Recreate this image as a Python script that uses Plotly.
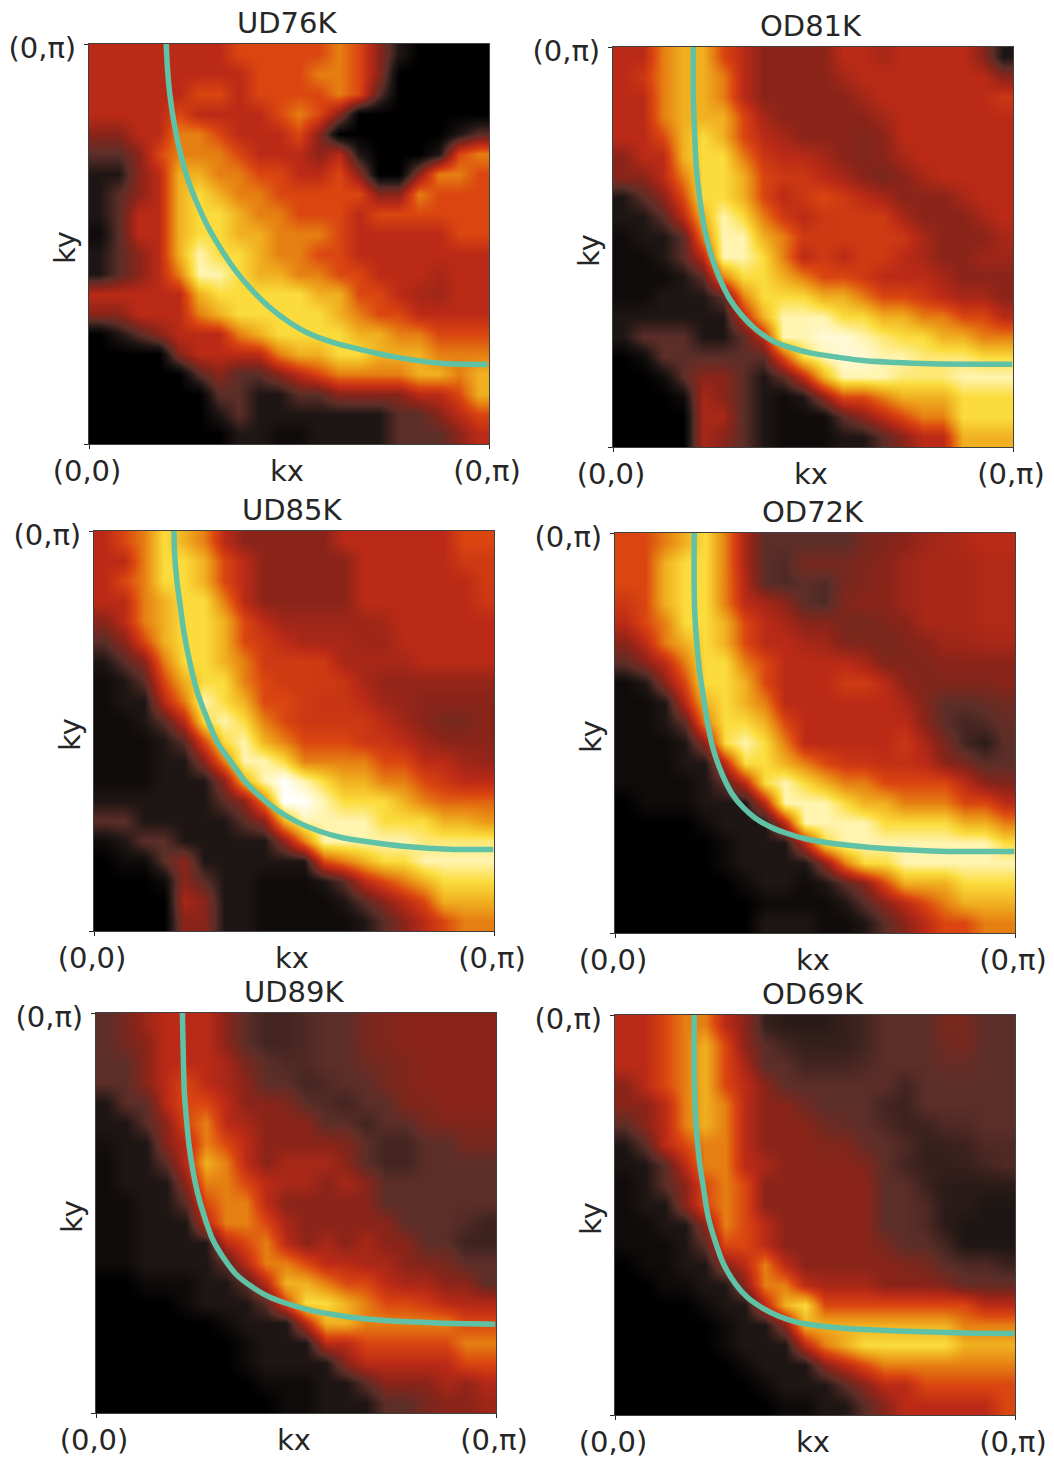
import plotly.graph_objects as go

W, H = 1054, 1459
PANEL = 400

titles = ["UD76K", "OD81K", "UD85K", "OD72K", "UD89K", "OD69K"]
x_tick_labels = ["(0,0)", "(0,π)"]
y_tick_labels = ["", "(0,π)"]
x_label = "kx"
y_label = "ky"
origins = [(89, 44), (613, 47), (94, 531), (615, 533), (96, 1013), (615, 1015)]

ud76 = [
[4,4,4,4,4,4,4,5,5,5,5,5,6,5,3,1,0,0,0,0],
[4,4,4,4,4,4,4,4,5,5,5,6,6,5,3,0,0,0,0,0],
[4,4,4,4,4,5,5,4,5,5,5,5,6,5,2,0,0,0,0,0],
[4,4,4,4,5,4,4,4,4,5,6,5,3,0,0,0,0,0,0,0],
[3,3,4,4,6,6,5,4,4,4,5,3,0,0,0,0,0,0,1,2],
[2,2,3,5,6,6,6,5,4,4,4,3,4,1,0,0,0,1,5,6],
[1,1,3,4,7,7,6,6,5,5,4,4,5,3,0,0,3,6,6,5],
[1,2,3,4,7,8,7,6,6,5,5,5,5,5,3,3,6,5,5,5],
[1,2,4,4,7,8,8,7,6,6,5,5,5,4,5,5,5,5,5,5],
[0.5,2,4,4,7,8,8,7,7,6,6,6,5,4,4,4,4,4,5,5],
[1,2,3,4,7,9,8,8,7,6,6,5,5,4,4,4,4,4,4,4],
[1,2,3,4,6,9,9,8,7,7,6,6,5,5,4,4,4,3.6,4,4],
[4,4,4,4,4,7,8,8,8,8,8,7,7,5,5,4,3.6,3.4,4,4],
[3,3,4,4,4,6,7,8,8,8,8,8,7,6,5,5,4,4,4,4],
[0,1,2,3,4,4,4,6,7,8,8,8,8,7,7,6,6,5,5,5],
[0,0,0,0,3,4,4,4,4,6,7,7,8,8,7,7,7,6,6,6],
[0,0,0,0,0,2,3,2,2,3,4,5,6,6,6,6,7,7,6,7],
[0,0,0,0,0,0,2,2,1,1,2,2,3,3,3,3,4,4,5,7],
[0,0,0,0,0,0,1,2,1,1,1,1,1,1,1,2,2,3,4,5],
[0,0,0,0,0,0,0,1,1,0.5,0.5,1,1,1,1,2,2,2,3,4],
]
od81 = [
[4,4,6,7,7,5,4,3,3,3,3,4,4,3.6,4,4,4,4,3,1],
[4,4.5,6,7,7,6,4,3,3,3,3,3.5,4,4,4,4,4,4,4,3],
[4,4,6,7,7,6,4,3,3,3,3,3,3.5,4,4,4,4,4,4,4.5],
[4,4,6,7,7,7,5,3.6,3,3,3,3,3,3.5,4,4,4,4,4,4],
[4,4,5,7,8,7,5,4,3.6,3,3,3,2.8,3,4,4,4,4,4,4],
[3,4,4,7,8,8,6,4.5,4,4,3.6,3,2.8,3,3.6,4,4,4,4,4],
[3,3,4,6,8,8,7,5,4.5,4.5,4,3.6,3,2.6,3,3.6,4,4,4,4],
[1,2,3,5,8,8,7,5,4,4.5,5,4.6,4,3.6,3,3,3,3.6,4,4],
[1,1,2,4,7,9,8,6,4.6,4,4.5,4.6,4.6,4.6,3.6,3,3,3,3.6,4],
[0.5,1,1,2,6,9,9,7,6,4.6,4.6,4.6,4.6,4.6,4.5,3.6,3,3,3,3.6],
[0.5,0.5,1,2,4,9,9,8,6,4,4.6,4,4.6,4.6,4,3.6,3,3,3.4,3.4],
[0.5,0.5,0.5,1,2,6,8,8,7,6,5,5,4.6,4,4,4,3.6,3,3,3],
[0.5,0.5,1,1,1,2,6,8,8,8,7,7,6,5,5,4.6,4,3.6,3.6,3],
[1,1,1,1,1,1,4,7,9,9,9,8,8,7,7,6,6,5,5,4],
[1,2,2,2,1,1,2,4,9,9,9.5,9.5,9,8.5,8,8,7,7,6,6],
[0,0.5,2,2,2,2,2,2,5,8,9,9.5,9.5,9,9,8.5,8.5,8.5,8,8],
[0,0,0.5,2,3,3,2,1,2,4,7,9,9,9,8.5,8.5,8.5,9,9,9],
[0,0,0,0.5,3.6,3,2,1,0.5,1,3,5,5,6,7,7,7,8,8,8],
[0,0,0,0,3.6,3.6,2,1,0.5,0.5,0.5,2,3,4,5,6,6,8,8,8],
[0,0,0,0,3.6,3,2,1,0.5,0.5,0.5,1,1,2,3,4,4,7,7,7],
]
ud85 = [
[4,5,6,8,7,6,4,3,3,3,3,3,4,4,4,4,4,4,5,5],
[4,4,6,8,8,7,5,4,3,3,3,3,3,4,4,4,4,4,4.6,4.6],
[4,5,6,8,8,7,5,4,3,3,3,3,3,4,4,4,4,4,4,4.6],
[4,4,6,7,8,8,6,4,3,3,3,3,3,4,4,4,4,4,4,4.5],
[3,4,6,7,8,8,7,5,4,3.4,3.4,3.4,3.4,3.4,3.6,4,4,4,4,4],
[2,3,5,7,8,8,7,5,4.6,4,3.6,3.6,3.6,3.4,3.4,4,4,4,4,4],
[1,2,3,6,8,8,7,6,4.6,4.6,4.6,4.5,3.6,3.6,3.6,3.6,4,4,4,4],
[0.5,1,2,5,7,8,8,6,5,4.6,4.6,4.6,4.4,3.6,3.2,3.2,3.2,3.2,3.2,3.2],
[0.5,1,1,4,6,9,8,7,5,5,4.6,4.4,4.4,4,3.4,3.2,3,3,3,3],
[0.5,0.5,1,2,4,8,9,8,6,5,4.5,4.5,4.5,4.5,4,3.4,3,2.6,2.6,3],
[0.5,0.5,0.5,1,2,5,8,9,7,6,5,5,5,4.5,4.4,4,3.4,3,3,3],
[0.5,0.5,0.5,1,1,3,6,9,9,8,6,6,6,6,5,5,4,4,3.4,3.2],
[0.5,0.5,0.5,1,1,1,3,7,9,10,9,8,7,7,6,6,5,4.5,4,4],
[1,1,1,1,1,1,2,3,6,10,10,9,8,8,8,7,6,5.5,5.5,5.5],
[2,2,1,1,1,1,1,2,3,7,9,9,9,9,8,8,8,7,7,6.5],
[0.5,1,2,2,1,1,1,1,1,3,6,9,9,9,9,9,8.5,8.5,8.5,8.5],
[0,0.5,0.5,2,3,1,1,1,1,1,1,5,6,7,8,8,9,9,9,9],
[0,0,0,0.5,3,2,1,1,0.5,0.5,0.5,1,2,4,5,6,7,8,8,8],
[0,0,0,0,3.6,3,1,1,0.5,0.5,0.5,0.5,1,2,3,4,5,7,7,7],
[0,0,0,0,3,3,1,1,0.5,0.5,0.5,0.5,0.5,1,2,3,4,5,6,6],
]
od72 = [
[5,5,6,7,8,6,3.6,2,2,2,2,2,2.6,2.8,3,3.4,3.6,3.8,4,4],
[5,5,7,8,8,6,3.6,2,1.8,2.6,2.6,2.6,2.8,3,3.4,3.6,3.6,3.6,3.8,3.8],
[5,5,7,8,8,6,3.8,2,1.8,2,1.8,2.6,2.8,3,3.4,3.6,3.6,3.6,3.8,3.8],
[4.5,5,7,8,8,6,4,3.6,3,2,1.8,2.8,3,3,3.4,3.6,3.6,3.6,3.8,3.8],
[4,5,6,8,8,7,5,4,3.6,3,3,2.6,2.6,2.8,3,3.6,3.6,3.6,3.8,3.8],
[3,4,6,7,8,7,5,4,4,3.6,3.4,2.8,2.8,2.6,2.8,3,3.4,3.4,3.6,3.6],
[2,3,4,6,8,8,6,5,4,4,4,4,3.6,2.8,2.8,2.8,3,3,3,3],
[0.5,1,3,5,8,8,7,5,4,4,4,4.6,4.6,4,3,2.8,2.8,2.8,2.8,3],
[0.5,0.5,1,4,7,8,7,6,4,4,4,4,4,4,3.6,2.8,2,2,2.2,2.4],
[0.5,0.5,1,2,6,8,8,7,5,4,4,4,4,4,4,3,2,1.6,1.8,2.2],
[0.5,0.5,0.5,1,3,8,9,8,6,4,4,4,4,4,4.5,3.6,2.6,1.6,1.2,2],
[0.5,0.5,0.5,1,1,4,8,8,7,6,5,4.5,4.4,4.2,4.2,4,3,2.6,2,2],
[0.5,0.5,0.5,0.5,1,2,4,8,9,8,7,6,6,5,5,5,5,4,3,2.8],
[0,0.5,0.5,0.5,1,1,1,4,9,9,9,8,7,7,6,6,6,5,5,4],
[0,0,0,0,0.5,1,1,1,4,9,9,9,9,8,8,8,8,7,7,6],
[0,0,0,0,0,0.5,1,1,1,4,8,9,9,9,9,9,9,9,9,8],
[0,0,0,0,0,0.5,1,1,1,1,3,6,8,8,9,9,9,9,9,9],
[0,0,0,0,0,0,0.5,1,1,0.5,1,2,3,5,7,7,7,8,8,8],
[0,0,0,0,0,0,0,0.5,0.5,0.5,0.5,1,2,3,4,5,6,7,7,7],
[0,0,0,0,0,0,0,1,1,1,0.5,0.5,1,2,3,4,5,5,6,6],
]
ud89 = [
[2,2.6,3.4,4,4,4,3,2,1.6,1.6,1.8,2,2,2.6,2.8,3,3,3,3,3],
[2,2.6,3,4,4,4,3,2,1.6,1.6,1.8,2,2,2.6,2.8,3,3,3,3,3],
[2,2,3,4,4,4,3.6,2.6,2,1.8,1.8,2,2,2.4,2.6,2.8,3,3,3,3],
[2,2,3,4,5,4,3.6,3,2,2,1.6,1.8,2,2,2.6,2.8,3,3,3,3],
[1,2,2,4,5,5,4,3,3,2.8,2,1.8,1.6,2,2,2.8,2.8,3,3,3],
[1,1,2,3,5,6,4,3.6,3,3,3,2,2,1.6,2,2,2.6,2.8,2.8,2.8],
[0.7,1,1,3,4,6,5,4,3,3,3,3,2.8,2,1.6,1.6,2,2,2.6,2.6],
[0.5,1,1,2,4,7,6,4,3,3.6,3.6,3.6,3,2,1.6,1.6,2,2,2,2],
[0.5,1,1,1,3,6,6,5,4,3.6,3.6,3,3.6,3,2,2,2,2,2,2],
[0.5,0.5,1,1,2,5,6,6,4,3,3,3,3,3,2,2,2,2,2,2],
[0.5,0.5,1,1,1,4,6,6,5,3.6,3,3,3,3,3,2,2,2,1.8,1.5],
[0.5,0.5,1,1,1,1,4,5,6,4,3,3.6,3,3.6,3,3,2,2,1.5,1.5],
[0.5,0.5,1,1,1,1,2,4,6,6,5,4,4,3.6,3.6,3,2.8,2.6,2,2],
[0,0,0.5,0.5,0.5,1,1,2,4,7,7,6,5,5,4,3.6,3.6,3,3,2],
[0,0,0,0,0.5,1,1,1,2,5,8,8,7,6,5,5,4.6,4,3.8,3.8],
[0,0,0,0,0,0,0.5,1,1,1,4,7,7,6,6,6,6,6,5,5],
[0,0,0,0,0,0,0,0.5,1,1,1,4,4,5,5,5,5,5,6,6],
[0,0,0,0,0,0,0,0.5,1,1,1,1,3,4,4,4,4,4,5,5],
[0,0,0,0,0,0,0,0,0.5,0.5,0.5,1,1,2,3,3,3,3.6,3.2,3.8],
[0,0,0,0,0,0,0,0,0,0.5,0.5,1,1,1,2,2,2.6,3,3,3.4],
]
od69 = [
[4,4,5,6,6,4,3,1.4,1.2,1.2,1.2,1.4,1.6,2,2,2,2.6,2.6,2,2],
[4,4,5,6,7,5,3,2,1.6,1.4,1.4,1.4,1.6,2,2,2,2.4,2.6,2,2],
[4,4,5,6,7,5,3.6,2,2,1.6,1.6,1.6,1.8,2,2,2,2.2,2.2,2,2],
[3,4,5,6,7,5,4,3,2,2,2,2,2,2,1.6,2,2,2,2,2],
[3,3,4,6,7,6,4,3,3,2.4,2,2,2,1.6,1.5,2,2,2,2,2],
[2,3,4,6,7,6,4,3,3,3,2.4,2.2,2,1.8,1.5,1.5,1.8,1.8,2,2],
[1,2,4,5,6,6,4,3,3,3,2.8,2.8,2.2,2,1.8,1.4,1.4,1.5,1.8,1.8],
[0.8,1,2,4,6,6,4,3.6,3,3,3,3,2.8,2,1.6,1.4,1.4,1.4,1.6,1.8],
[0.5,1,2,3,5,6,5,3,3,3,3,3,3,2,2,1.5,1.2,1.2,1.2,1.2],
[0.5,1,1,3,5,6,5,3,3,3,3,3,3,2,2,1.8,1.2,1.2,1,1],
[0.5,0.5,1,1,3,6,5,4,3,3,3,3,3,2,2,1.8,1.2,1,1,1],
[0.5,0.5,0.5,1,2,5,5,4,3,3,3,3,3,2.6,2,2,1.6,1,1,1],
[0,0.5,0.5,1,1,3,4,6,4,3,3,3,3,3,2.8,2.6,2,1.8,1.8,1.5],
[0,0,0.5,0.5,1,1,3,6,6,4,3.6,3.6,3.6,3,3,3,2.8,2.2,2.2,2.2],
[0,0,0,0,0.5,1,1,4,7,8,5,5,5,5,5,5,5,5,4,4],
[0,0,0,0,0,0.5,1,1,3,7,7,7,7,7,7,7,7,6,6,6],
[0,0,0,0,0,0.5,1,1,1,4,6,7,8,8,8,8,8,7,7,7],
[0,0,0,0,0,0,0.5,1,1,1,3,4,5,6,6,6,6,6,6,6],
[0,0,0,0,0,0,0,0.5,1,1,1,2,3,4,4,5,5,5,5,5],
[0,0,0,0,0,0,0,0,0.5,0.5,1,1,2,3,4,4,4,4,4,5],
]
maps = [ud76, od81, ud85, od72, ud89, od69]

curve_x = [
[.193,.196,.202,.213,.231,.252,.273,.298,.332,.366,.408,.450,.500,.550,.609,.668,.727,.786,.886,.996],
[.201,.201,.204,.208,.217,.229,.246,.267,.292,.322,.356,.398,.448,.499,.558,.625,.709,.794,.895,.998],
[.200,.202,.208,.217,.225,.242,.259,.284,.309,.343,.377,.419,.461,.511,.562,.621,.671,.773,.899,.998],
[.198,.198,.200,.204,.211,.221,.233,.246,.267,.292,.322,.351,.389,.427,.478,.537,.596,.663,.832,.998],
[.216,.219,.221,.225,.232,.242,.254,.271,.292,.322,.351,.389,.431,.473,.532,.600,.659,.726,.853,.998],
[.198,.198,.200,.204,.211,.221,.233,.250,.271,.301,.330,.368,.410,.452,.511,.579,.705,.874,.998],
]
curve_y = [
[1,.942,.875,.800,.717,.647,.595,.542,.484,.434,.384,.343,.305,.276,.254,.239,.225,.214,.201,.199],
[1,.869,.786,.703,.620,.545,.478,.420,.370,.329,.295,.266,.247,.234,.225,.216,.211,.208,.207,.207],
[1,.936,.869,.803,.745,.661,.595,.528,.470,.422,.375,.333,.300,.271,.250,.233,.225,.212,.204,.204],
[1,.857,.790,.732,.657,.591,.516,.458,.399,.349,.312,.287,.265,.250,.235,.225,.218,.212,.204,.204],
[1,.857,.799,.749,.674,.608,.550,.491,.433,.383,.346,.316,.291,.275,.258,.245,.237,.231,.225,.222],
[1,.860,.777,.710,.635,.569,.495,.436,.378,.328,.295,.268,.247,.233,.223,.216,.210,.205,.204],
]

colors = ["#000000","#1e1614","#5c2e28","#8a2419","#bb2a16","#da4510",
          "#e67f12","#f0b020","#fbdc3c","#fff4b0","#ffffff"]
colorscale = [[i / 10, c] for i, c in enumerate(colors)]

N = 20
centers = [(i + 0.5) / N for i in range(N)]
FONT = "DejaVu Sans"
FS = 29
INK = "#262626"

fig = go.Figure()
annotations = []
layout = {}
for i, (t, z, (x0, y0)) in enumerate(zip(titles, maps, origins)):
    suffix = "" if i == 0 else str(i + 1)
    xa, ya = "x" + suffix, "y" + suffix
    fig.add_trace(go.Heatmap(z=z[::-1], x=centers, y=centers, xaxis=xa, yaxis=ya,
                             zmin=0, zmax=10, colorscale=colorscale,
                             zsmooth="best", showscale=False, hoverinfo="skip"))
    fig.add_trace(go.Scatter(x=curve_x[i], y=curve_y[i], xaxis=xa, yaxis=ya, mode="lines",
                             line=dict(color="#5fc2a6", width=5.5, shape="spline", smoothing=0.8),
                             showlegend=False, hoverinfo="skip"))
    common = dict(range=[0, 1], tickvals=[0, 1], ticks="outside", ticklen=4, tickwidth=1,
                  tickcolor=INK, showgrid=False, zeroline=False, showline=True, mirror=True,
                  linecolor="#404040", linewidth=1, automargin=False,
                  tickfont=dict(family=FONT, size=FS, color=INK))
    layout["xaxis" + suffix] = dict(domain=[x0 / W, (x0 + PANEL) / W], anchor=ya,
                                    ticktext=x_tick_labels, tickangle=0, ticklabelshift=-2,
                                    ticklabelstandoff=-3, **common)
    layout["yaxis" + suffix] = dict(domain=[1 - (y0 + PANEL) / H, 1 - y0 / H], anchor=xa,
                                    ticktext=y_tick_labels, ticklabelshift=4, ticklabelstandoff=2, **common)
    annotations.append(dict(text=t, x=(x0 + 198) / W, y=1 - (y0 - 21) / H, xref="paper", yref="paper",
                            showarrow=False, xanchor="center", yanchor="middle",
                            font=dict(family=FONT, size=FS, color=INK)))
    annotations.append(dict(text=x_label, x=(x0 + 198) / W, y=1 - (y0 + 427) / H, xref="paper", yref="paper",
                            showarrow=False, xanchor="center", yanchor="middle",
                            font=dict(family=FONT, size=FS, color=INK)))
    annotations.append(dict(text=y_label, x=(x0 - 24) / W, y=1 - (y0 + 204) / H, xref="paper", yref="paper",
                            showarrow=False, xanchor="center", yanchor="middle", textangle=-90,
                            font=dict(family=FONT, size=FS, color=INK)))

fig.update_layout(width=W, height=H, margin=dict(l=0, r=0, t=0, b=0),
                  paper_bgcolor="white", plot_bgcolor="black", showlegend=False,
                  annotations=annotations, **layout)
fig.write_html("out.html", post_script="document.body.style.margin='0';document.body.style.overflow='hidden';",
               config={"displayModeBar": False})
